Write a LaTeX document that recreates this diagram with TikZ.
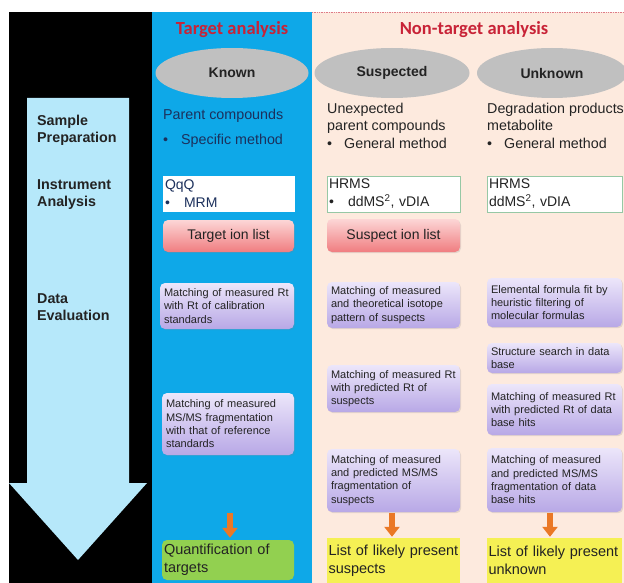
\documentclass[tikz,border=0pt]{standalone}
\usepackage{fontspec}
\setmainfont{Liberation Sans}
\newfontfamily\hdrfont{Carlito}
\usetikzlibrary{arrows.meta,shapes.geometric,shadows}
\definecolor{colBlue}{RGB}{14,168,232}
\definecolor{colPeach}{RGB}{253,234,222}
\definecolor{colArrow}{RGB}{182,232,250}
\definecolor{colRed}{RGB}{200,35,55}
\definecolor{ellGray}{RGB}{192,192,192}
\definecolor{purTop}{RGB}{236,230,250}
\definecolor{purBot}{RGB}{184,168,230}
\definecolor{pinkTop}{RGB}{252,214,214}
\definecolor{pinkBot}{RGB}{240,125,128}
\definecolor{colGreen}{RGB}{146,208,80}
\definecolor{colYellow}{RGB}{245,240,84}
\definecolor{colOrange}{RGB}{234,120,38}
\definecolor{hrmsBorder}{RGB}{150,200,165}
\definecolor{txtDark}{RGB}{35,35,35}
\definecolor{navy}{RGB}{28,48,92}
\begin{document}
\begin{tikzpicture}[x=1pt,y=-1pt,
  hdr/.style={font=\hdrfont\bfseries\fontsize{18.5}{21}\selectfont, text=colRed, inner sep=0},
  ellip/.style={ellipse, fill=ellGray, inner sep=0, minimum height=50pt,
    font=\bfseries\fontsize{14}{17}\selectfont, text=txtDark},
  lbl/.style={anchor=west, align=left, inner sep=0,
    font=\bfseries\fontsize{14.3}{17}\selectfont, text=txtDark},
  body/.style={anchor=west, align=left, inner sep=0,
    font=\fontsize{14.3}{17.5}\selectfont, text=txtDark},
  whitebox/.style={fill=white, inner xsep=2pt, inner ysep=0pt, align=left,
    font=\fontsize{14}{18}\selectfont, text=txtDark},
  pinkbox/.style={rounded corners=5pt, top color=pinkTop, bottom color=pinkBot,
    inner sep=0, font=\fontsize{14}{17}\selectfont, text=txtDark,
    drop shadow={opacity=0.2, shadow xshift=1pt, shadow yshift=-1.2pt}},
  purplebox/.style={rounded corners=5pt, top color=purTop, bottom color=purBot,
    inner xsep=4pt, inner ysep=0pt, align=left,
    font=\fontsize{11}{13.3}\selectfont, text=txtDark,
    drop shadow={opacity=0.2, shadow xshift=1.2pt, shadow yshift=-1.2pt}},
  greenbox/.style={rounded corners=5pt, fill=colGreen, inner xsep=2pt, inner ysep=0pt,
    align=left, font=\fontsize{14.5}{18}\selectfont, text=txtDark},
  yelbox/.style={fill=colYellow, inner xsep=1.5pt, inner ysep=0pt,
    align=left, font=\fontsize{14.5}{18}\selectfont, text=txtDark},
  oarrow/.style={draw=colOrange, line width=6pt, -{Triangle[width=15pt,length=10pt]}}
]
\useasboundingbox (0,0) rectangle (624,583);
\fill[white] (0,0) rectangle (624,583);
% background columns
\fill[black] (9,12) rectangle (152,583);
\fill[colBlue] (152,12) rectangle (312,583);
\fill[colPeach] (312,12) rectangle (624,583);
\draw[colRed!60, densely dotted, line width=0.7pt] (312,12.4) -- (624,12.4);
% big process arrow
\fill[colArrow] (27,98) -- (129,98) -- (129,483) -- (147,483) -- (78,560)
  -- (9,483) -- (27,483) -- cycle;

% headers
\node[hdr] (ht) at (232,30) {Target analysis};
\node[hdr] (hn) at (474,30) {Non-target analysis};

% ellipses
\node[ellip, minimum width=153pt] (ek) at (232,73) {Known};
\node[ellip, minimum width=155pt] (es) at (392,73) {Suspected};
\node[ellip, minimum width=150pt] (eu) at (552,73) {Unknown};

% stage labels
\node[lbl] (l1) at (37,130) {Sample\\Preparation};
\node[lbl] (l2) at (37,194.5) {Instrument\\Analysis};
\node[lbl] (l3) at (37,307) {Data\\Evaluation};

% compound descriptions
\node[body, text=navy] (kt) at (163,128.5)
  {Parent compounds\\[7.5pt]\makebox[18pt][l]{•}Specific method};
\node[body] (st) at (327,125.5)
  {Unexpected\\parent compounds\\\makebox[17pt][l]{•}General method};
\node[body] (ut) at (487,125.5)
  {Degradation products\\metabolite\\\makebox[17pt][l]{•}General method};

% instruments
\node[whitebox, text=navy, minimum width=132pt, text width=128pt, minimum height=36pt]
  (qqq) at (229,194) {QqQ\\\makebox[19pt][l]{•}MRM};
\node[whitebox, draw=hrmsBorder, line width=0.6pt, minimum width=133pt, text width=129pt, minimum height=36pt]
  (hs) at (393.5,194) {HRMS\\\makebox[19pt][l]{•}ddMS\textsuperscript{2}, vDIA};
\node[whitebox, draw=hrmsBorder, line width=0.6pt, minimum width=135pt, text width=131pt, minimum height=36pt]
  (hu) at (554.5,194) {HRMS\\ddMS\textsuperscript{2}, vDIA};

% ion lists
\node[pinkbox, minimum width=131pt, minimum height=32pt] (til) at (228.5,236) {Target ion list};
\node[pinkbox, minimum width=133pt, minimum height=33pt] (sil) at (393.5,235.5) {Suspect ion list};

% data evaluation steps
\node[purplebox, minimum width=134pt, text width=126pt, minimum height=46pt] (t1) at (227,306)
  {Matching of measured Rt\\with Rt of calibration\\standards};
\node[purplebox, minimum width=132pt, text width=124pt, minimum height=62pt] (t2) at (228,424)
  {Matching of measured\\MS/MS fragmentation\\with that of reference\\standards};
\node[purplebox, minimum width=133pt, text width=125pt, minimum height=46pt] (s1) at (393.5,305)
  {Matching of measured\\and theoretical isotope\\pattern of suspects};
\node[purplebox, minimum width=133pt, text width=125pt, minimum height=47pt] (s2) at (393.5,388.5)
  {Matching of measured Rt\\with predicted Rt of\\suspects};
\node[purplebox, minimum width=133pt, text width=125pt, minimum height=63pt] (s3) at (393.5,480.5)
  {Matching of measured\\and predicted MS/MS\\fragmentation of\\suspects};
\node[purplebox, minimum width=135pt, text width=127pt, minimum height=49pt] (u1) at (554.5,302.5)
  {Elemental formula fit by\\heuristic filtering of\\molecular formulas};
\node[purplebox, minimum width=135pt, text width=127pt, minimum height=30pt] (u2) at (554.5,358)
  {Structure search in data\\base};
\node[purplebox, minimum width=135pt, text width=127pt, minimum height=51pt] (u3) at (554.5,409.5)
  {Matching of measured Rt\\with predicted Rt of data\\base hits};
\node[purplebox, minimum width=135pt, text width=127pt, minimum height=64pt] (u4) at (554.5,480)
  {Matching of measured\\and predicted MS/MS\\fragmentation of data\\base hits};

% results
\node[greenbox, minimum width=132pt, text width=128pt, minimum height=40pt] (gq) at (228,560)
  {Quantification of\\targets};
\node[yelbox, minimum width=133pt, text width=130pt, minimum height=45pt] (ys) at (393.5,560.5)
  {List of likely present\\suspects};
\node[yelbox, minimum width=135pt, text width=132pt, minimum height=45pt] (yu) at (554.5,560.5)
  {List of likely present\\unknown};

% orange arrows
\coordinate (ta) at (230,513);
\draw[oarrow, shorten >=2pt] (ta) -- (ta |- gq.north);
\draw[oarrow, shorten <=1pt, shorten >=1pt] ([xshift=-1.5pt]s3.south) -- ([xshift=-1.5pt]ys.north);
\draw[oarrow, shorten <=1pt, shorten >=1pt] ([xshift=-4.5pt]u4.south) -- ([xshift=-4.5pt]yu.north);
\end{tikzpicture}
\end{document}
